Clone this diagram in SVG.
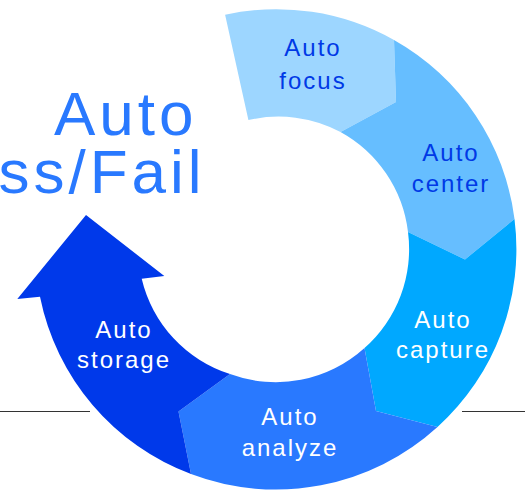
<svg xmlns="http://www.w3.org/2000/svg" width="525" height="490" viewBox="0 0 525 490">
<style>
.lbl{font-family:"Liberation Sans",Arial,sans-serif;font-size:24px;letter-spacing:2px;text-anchor:middle}
.dark{fill:#0039E6}
.light{fill:#FFFFFF}
.title{font-family:"Liberation Sans",Arial,sans-serif;font-size:62px;letter-spacing:4px;fill:#2979FF}
.rule{stroke:#333333;stroke-width:1.2}
</style>
<rect width="525" height="490" fill="#FFFFFF"/>
<g id="connectors">
<line class="rule" x1="0" y1="411.5" x2="90" y2="411.5"/>
<line class="rule" x1="462" y1="411.5" x2="525" y2="411.5"/>
</g>
<g id="title">
<text class="title" x="54" y="135">Auto</text>
<text class="title" x="-1.5" y="193">ss/Fail</text>
</g>
<g id="node-focus">
<path fill="#9DD6FF" d="M225.1,14.7 A240,240 0 0 1 394,40 L396,102 L340.5,132 A132,132 0 0 0 248.4,120.1 Z"/>
<text class="lbl dark" x="313" y="56">Auto</text>
<text class="lbl dark" x="313" y="89">focus</text>
</g>
<g id="node-center">
<path fill="#66BEFF" d="M394,40 A240,240 0 0 1 514.5,219 L465,259.5 L408,232 A132,132 0 0 0 340.5,132 L396,102 Z"/>
<text class="lbl dark" x="451" y="161">Auto</text>
<text class="lbl dark" x="451" y="192">center</text>
</g>
<g id="node-capture">
<path fill="#00A8FF" d="M514.5,219 A240,240 0 0 1 437.5,427 L376,411 L364.5,348 A132,132 0 0 0 408,232 L465,259.5 Z"/>
<text class="lbl light" x="443" y="328">Auto</text>
<text class="lbl light" x="443" y="358">capture</text>
</g>
<g id="node-analyze">
<path fill="#2979FF" d="M437.5,427 A240,240 0 0 1 191,474 L178.5,411.5 L230,374 A132,132 0 0 0 364.5,348 L376,411 Z"/>
<text class="lbl light" x="290" y="425">Auto</text>
<text class="lbl light" x="290" y="456">analyze</text>
</g>
<g id="node-storage">
<path fill="#0039EA" d="M191,474 A240,240 0 0 1 40,296.7 L17.3,299 L86,215 L164.3,276 L141.7,278.7 A132,132 0 0 0 230,374 L178.5,411.5 Z"/>
<text class="lbl light" x="124" y="338">Auto</text>
<text class="lbl light" x="124" y="368">storage</text>
</g>
</svg>
